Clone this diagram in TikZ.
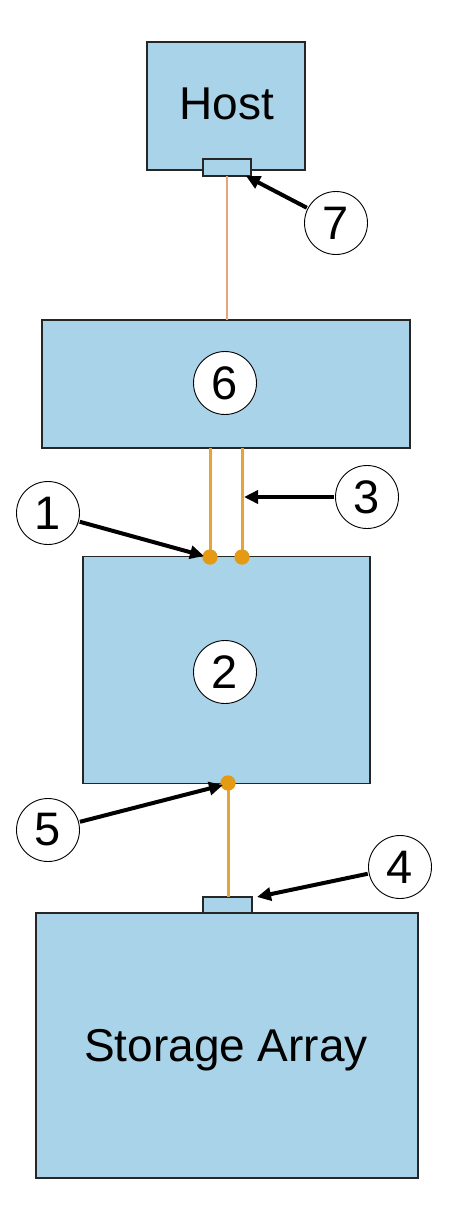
\documentclass[tikz,border=0pt]{standalone}
\usepackage{fontspec}
\setmainfont{Liberation Sans}
\usetikzlibrary{arrows.meta}
\definecolor{boxblue}{HTML}{A9D3E8}
\definecolor{gold}{HTML}{E3A43A}
\definecolor{dotgold}{HTML}{E59A14}
\definecolor{thinorange}{HTML}{E8A47C}
\tikzset{
  unitbox/.style={draw=black!85, line width=1.4pt, fill=boxblue, rectangle, inner sep=0pt},
  portbox/.style={draw=black!85, line width=1.2pt, fill=boxblue, rectangle, inner sep=0pt},
  callout/.style={draw=black, line width=0.9pt, fill=white, circle, inner sep=0pt, minimum size=63pt, font=\fontsize{47}{50}\selectfont},
  pointer/.style={draw=black, line width=4pt, -{Triangle[length=14pt,width=13pt]}, shorten <=1pt},
  cable/.style={draw=gold, line width=3pt},
  dotnode/.style={circle, fill=dotgold, inner sep=0pt, minimum size=15pt},
  bigtext/.style={font=\fontsize{46}{50}\selectfont}
}
\begin{document}
\begin{tikzpicture}[x=1pt,y=-1pt]
\useasboundingbox (0,0) rectangle (451,1220);
\fill[white] (0,0) rectangle (451,1220);
% boxes
\node[unitbox, minimum width=158pt, minimum height=128pt] (host) at (226,106) {};
\node[bigtext] (hosttxt) at (227,104) {Host};
\node[unitbox, minimum width=368pt, minimum height=128pt] (sw) at (226,384) {};
\node[unitbox, minimum width=287pt, minimum height=227pt] (mid) at (226.5,670) {};
\node[unitbox, minimum width=382pt, minimum height=265pt] (stor) at (227,1045.5) {};
\node[bigtext] (stortxt) at (226,1050) {Storage Array};
% ports
\node[portbox, minimum width=48pt, minimum height=17pt] (hport) at (227,167.5) {};
\node[portbox, minimum width=49pt, minimum height=16pt] (sport) at (227.5,905) {};
% cables
\coordinate (hc) at (227,176);
\coordinate (swt) at (227,320);
\draw[thinorange, line width=1.5pt] (hc) -- (swt);
\coordinate (l1t) at (210,448);
\coordinate (l3t) at (242,448);
\node[dotnode] (d1) at (210,557) {};
\node[dotnode] (d3) at (242,557) {};
\draw[cable] (l1t) -- (d1.center);
\draw[cable] (l3t) -- (d3.center);
\node[dotnode] (d5) at (228,783) {};
\coordinate (st) at (228,897);
\draw[cable] (d5.center) -- (st);
\node[dotnode] (d1b) at (210,557) {};
\node[dotnode] (d3b) at (242,557) {};
\node[dotnode] (d5b) at (228,783) {};
% callouts
\node[callout] (c7) at (336,223) {7};
\node[callout] (c6) at (225,383) {6};
\node[callout] (c1) at (48,513) {1};
\node[callout] (c3) at (367,497) {3};
\node[callout] (c2) at (225,672) {2};
\node[callout] (c5) at (48,830) {5};
\node[callout] (c4) at (400,867) {4};
% pointers
\coordinate (p7) at (246,176);
\coordinate (p1) at (204,556);
\coordinate (p3) at (244,497);
\coordinate (p5) at (223,785);
\coordinate (p4) at (257,897);
\draw[pointer] (c7) -- (p7);
\draw[pointer] (c1) -- (p1);
\draw[pointer] (c3) -- (p3);
\draw[pointer] (c5) -- (p5);
\draw[pointer] (c4) -- (p4);
\end{tikzpicture}
\end{document}
